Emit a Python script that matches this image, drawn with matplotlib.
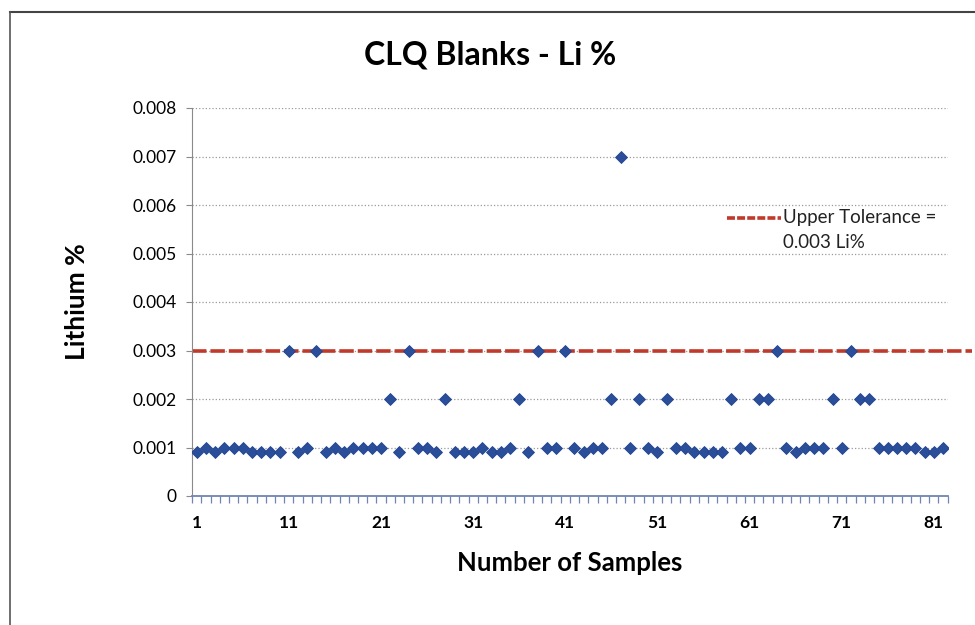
import matplotlib.pyplot as plt
from matplotlib.lines import Line2D
from matplotlib.ticker import FuncFormatter, MultipleLocator, FixedLocator

plt.rcParams['font.family'] = ['Lato', 'DejaVu Sans']

# Li % of each CLQ blank, in order of analysis
samples = list(range(1, 83))
li_pct = [
    0.0009, 0.001, 0.0009, 0.001, 0.001, 0.001, 0.0009, 0.0009, 0.0009, 0.0009,
    0.003, 0.0009, 0.001, 0.003, 0.0009, 0.001, 0.0009, 0.001, 0.001, 0.001,
    0.001, 0.002, 0.0009, 0.003, 0.001, 0.001, 0.0009, 0.002, 0.0009, 0.0009,
    0.0009, 0.001, 0.0009, 0.0009, 0.001, 0.002, 0.0009, 0.003, 0.001, 0.001,
    0.003, 0.001, 0.0009, 0.001, 0.001, 0.002, 0.007, 0.001, 0.002, 0.001,
    0.0009, 0.002, 0.001, 0.001, 0.0009, 0.0009, 0.0009, 0.0009, 0.002, 0.001,
    0.001, 0.002, 0.002, 0.003, 0.001, 0.0009, 0.001, 0.001, 0.001, 0.002,
    0.001, 0.003, 0.002, 0.002, 0.001, 0.001, 0.001, 0.001, 0.001, 0.0009,
    0.0009, 0.001,
]
upper_tolerance = 0.003
x_labels = [1, 11, 21, 31, 41, 51, 61, 71, 81]

fig = plt.figure(figsize=(9.75, 6.25), dpi=100)
ax = fig.add_axes([0.197, 0.2064, 0.775, 0.6208])

ax.set_xlim(0.5, len(samples) + 0.5)
ax.set_ylim(0, 0.008)

# tolerance line runs a little past the plot area
ax.axhline(upper_tolerance, xmin=0, xmax=1.032, color='#C0392B', lw=2.6,
           dashes=(4.0, 1.1), clip_on=False, zorder=2)
ax.plot(samples, li_pct, 'D', color='#2B4E9B', markersize=6.4,
        markeredgecolor='#23458F', markeredgewidth=0.6, zorder=3)

# grid and axes in the spreadsheet style
ax.yaxis.set_major_locator(MultipleLocator(0.001))
ax.yaxis.set_major_formatter(FuncFormatter(lambda v, p: '0' if v == 0 else f'{v:.3f}'))
ax.grid(axis='y', color='#9a9a9a', ls=':', lw=0.9)
ax.set_axisbelow(True)
for side in ('top', 'right'):
    ax.spines[side].set_visible(False)
ax.spines['left'].set_color('#8a8a8a')
ax.spines['bottom'].set_color('#6f86b0')
ax.spines['bottom'].set_linewidth(1.3)

ax.xaxis.set_major_locator(FixedLocator(x_labels))
ax.xaxis.set_minor_locator(FixedLocator([n + 0.5 for n in range(0, len(samples) + 1)]))
ax.tick_params(axis='x', which='major', length=0, pad=14, labelsize=12.5)
ax.tick_params(axis='x', which='minor', length=5, color='#6f86b0', width=0.9)
ax.tick_params(axis='y', which='major', length=4, color='#8a8a8a', labelsize=12.5, pad=7)
for lbl in ax.get_xticklabels():
    lbl.set_fontweight('bold')

ax.set_xlabel('Number of Samples', fontsize=18.5, fontweight='bold', labelpad=14)
ax.set_ylabel('Lithium %', fontsize=19, fontweight='bold', labelpad=31)
fig.text(0.503, 0.912, 'CLQ Blanks - Li %', ha='center', va='center',
         fontsize=23, fontweight='bold')

# legend entry for the tolerance line
ax.add_line(Line2D([0.708, 0.780], [0.7165, 0.7165], transform=ax.transAxes,
                   color='#C0392B', lw=2.6, dashes=(2.2, 0.6)))
ax.text(0.782, 0.7165, 'Upper Tolerance =', transform=ax.transAxes,
        va='center', ha='left', fontsize=13.5, color='#222222')
ax.text(0.782, 0.6546, '0.003 Li%', transform=ax.transAxes,
        va='center', ha='left', fontsize=13.5, color='#222222')

# chart frame
fig.add_artist(Line2D([0.0103, 1.0], [0.981, 0.981], color='#444444', lw=1.5))
fig.add_artist(Line2D([0.0103, 0.0103], [0.0, 0.981], color='#555555', lw=1.2))

fig.savefig('out.png', dpi=100)
